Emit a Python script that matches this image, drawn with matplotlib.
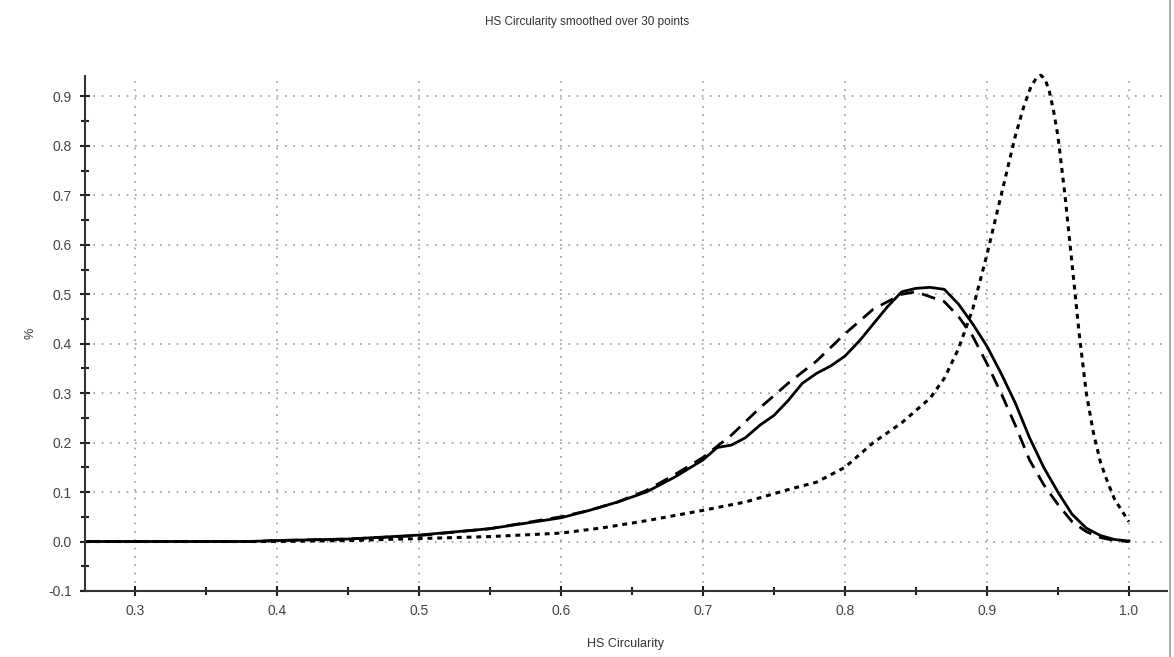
import matplotlib
matplotlib.use("Agg")
import matplotlib.pyplot as plt
from matplotlib.ticker import MultipleLocator
from matplotlib.lines import Line2D

# HS Circularity values (x in circularity, y in %)
solid_x = [0.265, 0.38, 0.40, 0.45, 0.50, 0.55, 0.60, 0.62, 0.64, 0.66, 0.68, 0.70, 0.71, 0.72,
           0.73, 0.74, 0.75, 0.76, 0.77, 0.78, 0.79, 0.80, 0.81, 0.82, 0.83, 0.84, 0.85, 0.86,
           0.87, 0.88, 0.89, 0.90, 0.91, 0.92, 0.93, 0.94, 0.95, 0.96, 0.97, 0.98, 0.99, 1.00]
solid_y = [0.0, 0.0, 0.002, 0.005, 0.013, 0.026, 0.048, 0.063, 0.08, 0.10, 0.13, 0.165, 0.19, 0.195,
           0.21, 0.235, 0.255, 0.285, 0.32, 0.34, 0.355, 0.375, 0.405, 0.44, 0.475, 0.505, 0.512, 0.514,
           0.51, 0.48, 0.44, 0.395, 0.34, 0.28, 0.21, 0.15, 0.10, 0.055, 0.027, 0.012, 0.004, 0.001]

dashed_x = [0.265, 0.38, 0.40, 0.45, 0.50, 0.55, 0.60, 0.62, 0.64, 0.66, 0.68, 0.70, 0.72, 0.74,
            0.76, 0.78, 0.80, 0.82, 0.84, 0.85, 0.86, 0.87, 0.88, 0.89, 0.90, 0.91, 0.92, 0.93,
            0.94, 0.95, 0.96, 0.97, 0.98, 0.99, 1.00]
dashed_y = [0.0, 0.0, 0.002, 0.005, 0.012, 0.026, 0.05, 0.063, 0.08, 0.103, 0.135, 0.17, 0.215, 0.27,
            0.32, 0.365, 0.42, 0.47, 0.50, 0.505, 0.495, 0.485, 0.455, 0.415, 0.36, 0.30, 0.235, 0.165,
            0.115, 0.075, 0.04, 0.02, 0.008, 0.002, 0.0]

dotted_x = [0.265, 0.40, 0.45, 0.50, 0.55, 0.60, 0.63, 0.66, 0.70, 0.73, 0.76, 0.78, 0.80, 0.82,
            0.84, 0.86, 0.87, 0.88, 0.89, 0.90, 0.91, 0.92, 0.926, 0.931, 0.935, 0.938, 0.941,
            0.944, 0.947, 0.95, 0.955, 0.96, 0.965, 0.97, 0.975, 0.98, 0.985, 0.99, 1.00]
dotted_y = [0.0, 0.0, 0.002, 0.006, 0.01, 0.017, 0.028, 0.042, 0.063, 0.08, 0.105, 0.12, 0.15, 0.2,
            0.24, 0.29, 0.33, 0.39, 0.47, 0.58, 0.70, 0.82, 0.88, 0.92, 0.938, 0.943, 0.935,
            0.91, 0.87, 0.82, 0.70, 0.56, 0.42, 0.30, 0.22, 0.16, 0.12, 0.085, 0.04]

plt.rcParams['font.family'] = ['Liberation Sans', 'DejaVu Sans']

fig = plt.figure(figsize=(11.74, 6.57), dpi=100)
ax = fig.add_axes([0.0724, 0.1005, 0.9216, 0.7835])

ax.plot(solid_x, solid_y, color="black", linewidth=2.0, linestyle="-")
ax.plot(dashed_x, dashed_y, color="black", linewidth=2.0, linestyle=(0, (5, 3)))
ax.plot(dotted_x, dotted_y, color="black", linewidth=2.2, linestyle=(0, (1.6, 1.6)), clip_on=False)

ax.set_xlim(0.2648, 1.0268)
ax.set_ylim(-0.1, 0.941)

ax.xaxis.set_major_locator(MultipleLocator(0.1))
ax.xaxis.set_minor_locator(MultipleLocator(0.05))
ax.yaxis.set_major_locator(MultipleLocator(0.1))
ax.yaxis.set_minor_locator(MultipleLocator(0.05))
ax.xaxis.set_major_formatter(plt.FuncFormatter(lambda v, p: f"{v:.1f}"))
ax.yaxis.set_major_formatter(plt.FuncFormatter(lambda v, p: f"{v:.1f}"))

ax.grid(True, which="major", color="#9a9a9a", linestyle=(0, (1, 4)), linewidth=1.2)
ax.set_axisbelow(True)

for side in ["top", "right"]:
    ax.spines[side].set_visible(False)
for side in ["left", "bottom"]:
    ax.spines[side].set_color("#333333")
    ax.spines[side].set_linewidth(1.5)

ax.tick_params(which="both", direction="inout", color="#222222", width=1.5)
ax.tick_params(which="major", length=7, labelsize=10, labelcolor="#444444", pad=6)
ax.tick_params(which="minor", length=6)

ax.set_xlabel("HS Circularity", fontsize=9, color="#333333", labelpad=14)
ax.set_ylabel("%", fontsize=9, color="#333333", labelpad=8)
fig.text(0.5, 0.966, "HS Circularity smoothed over 30 points", ha="center", va="center",
         fontsize=8.5, color="#333333")

# thin gray border on the right edge of the panel
fig.add_artist(Line2D([0.9966, 0.9966], [0, 1], transform=fig.transFigure,
                      color="#999999", linewidth=1.2))

fig.savefig("out.png", dpi=100)
